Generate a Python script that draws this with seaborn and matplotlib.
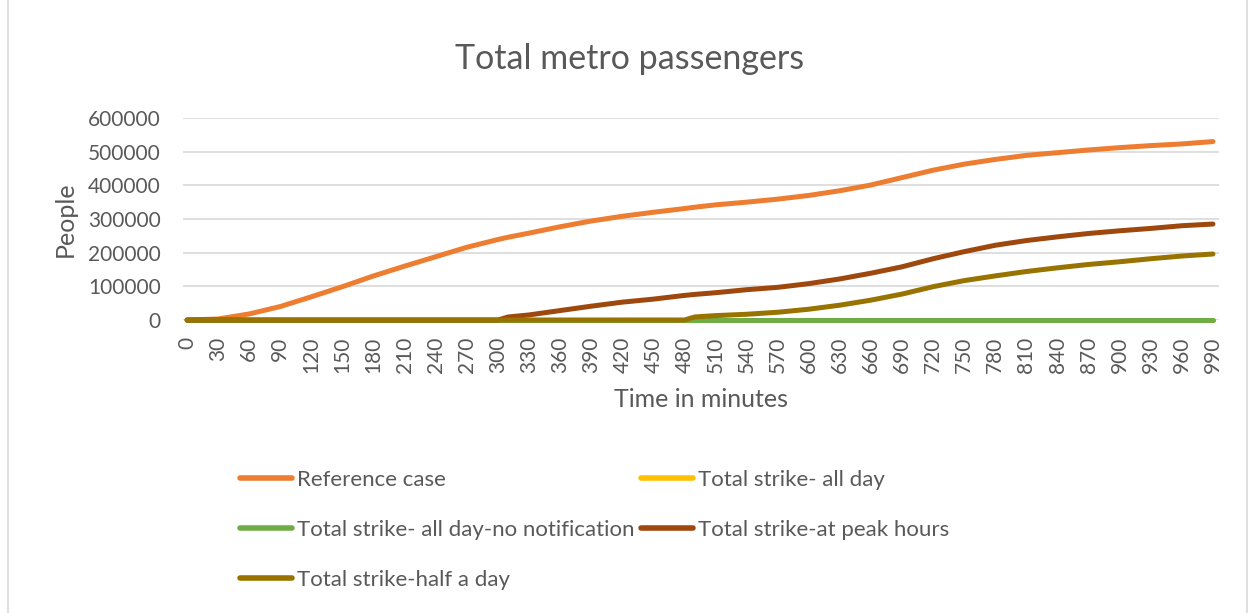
import seaborn as sns
import matplotlib.pyplot as plt
import pandas as pd
from matplotlib.patches import Rectangle
from matplotlib.lines import Line2D

# time axis in minutes (extra points where the strike curves jump)
minutes = [0, 30, 60, 90, 120, 150, 180, 210, 240, 270, 300, 310, 330, 360, 390, 420, 450, 480, 490,
           510, 540, 570, 600, 630, 660, 690, 720, 750, 780, 810, 840, 870, 900, 930, 960, 990]

reference_case = [0, 3000, 18000, 40000, 69000, 99000, 131000, 160000, 188000, 216000, 239000, 246000,
                  258000, 277000, 294000, 308000, 320000, 331000, 335000,
                  342000, 350000, 359000, 370000, 384000, 401000, 423000, 445000, 463000, 477000, 489000,
                  497000, 505000, 512000, 518000, 523000, 530000]
all_day = [0] * 36
all_day_no_notification = [0] * 36
peak_hours = [0, 0, 0, 0, 0, 0, 0, 0, 0, 0, 0, 9000,
              15000, 28000, 41000, 53000, 62000, 73000, 76000,
              81000, 90000, 97000, 108000, 122000, 139000, 158000, 182000, 203000, 222000, 236000,
              247000, 257000, 265000, 272000, 280000, 285000]
half_day = [0, 0, 0, 0, 0, 0, 0, 0, 0, 0, 0, 0,
            0, 0, 0, 0, 0, 0, 9000,
            13000, 17000, 23000, 32000, 44000, 59000, 77000, 99000, 117000, 131000, 144000,
            155000, 165000, 173000, 182000, 190000, 196000]

series = {
    'Reference case': reference_case,
    'Total strike- all day': all_day,
    'Total strike- all day-no notification': all_day_no_notification,
    'Total strike-at peak hours': peak_hours,
    'Total strike-half a day': half_day,
}
colors = ['#ED7D31', '#FFC000', '#70AD47', '#9E480E', '#997300']
names = list(series.keys())

df = pd.concat([pd.DataFrame({'minute': minutes, 'people': v, 'case': k}) for k, v in series.items()])

sns.set_style('white')
plt.rcParams['font.family'] = ['Lato', 'DejaVu Sans']
grey = '#595959'

fig = plt.figure(figsize=(12.52, 6.13), dpi=100)
ax = fig.add_axes([0.1462, 0.478, 0.8274, 0.3295])

sns.lineplot(data=df, x='minute', y='people', hue='case', hue_order=names,
             palette=dict(zip(names, colors)), estimator=None, lw=3.6, legend=False, ax=ax)
for ln in ax.lines:
    ln.set_clip_on(False)
    ln.set_solid_capstyle('round')

ax.set_xlim(-3.9, 995.8)
ax.set_ylim(0, 600000)
ax.set_yticks(range(0, 600001, 100000))
ax.set_xticks(range(0, 991, 30))
ax.set_xticklabels([str(m) for m in range(0, 991, 30)], rotation=90)
ax.tick_params(axis='both', length=0, labelsize=15, labelcolor=grey)
ax.tick_params(axis='x', pad=12)
ax.tick_params(axis='y', pad=16)
ax.grid(axis='y', color='#D9D9D9', lw=1.2)
ax.set_axisbelow(True)
for s in ax.spines.values():
    s.set_visible(False)

ax.set_xlabel('Time in minutes', fontsize=18, color=grey, labelpad=11)
ax.set_ylabel('People', fontsize=18, color=grey, labelpad=8)
fig.text(0.503, 0.903, 'Total metro passengers', ha='center', va='center', fontsize=24.5, color=grey)

# chart area frame
fig.patches.append(Rectangle((0.006, -0.01), 0.99, 1.02, transform=fig.transFigure,
                             fill=False, edgecolor='#D9D9D9', lw=1.2))

# legend in the row-wise order of the reference
order = [0, 2, 4, 1, 3]
handles = [Line2D([], [], color=colors[i], lw=4, solid_capstyle='round') for i in order]
labels = [names[i] for i in order]
fig.legend(handles, labels, loc='upper left', bbox_to_anchor=(0.1917, 0.233), ncol=2, frameon=False,
           fontsize=16, labelcolor=grey, handlelength=2.35, handletextpad=0.22, columnspacing=0.27,
           labelspacing=1.34, borderaxespad=0, borderpad=0)

fig.savefig('out.png', dpi=100)
